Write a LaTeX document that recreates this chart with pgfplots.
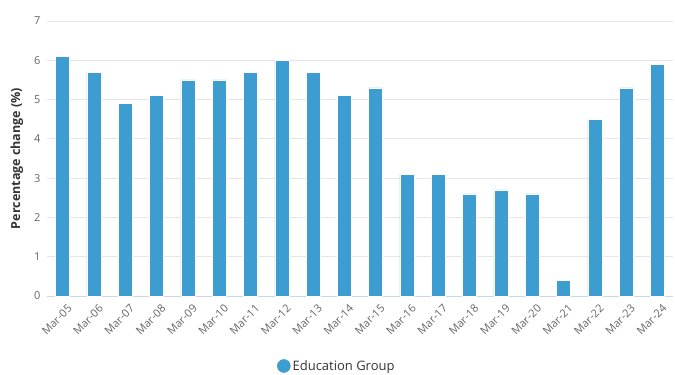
\documentclass[border=0pt]{standalone}
\usepackage{pgfplots}
\pgfplotsset{compat=1.18}
\usepackage{fontspec}
\setmainfont{Open Sans}
\definecolor{barblue}{RGB}{61,157,209}
\definecolor{tickgray}{RGB}{102,102,102}
\definecolor{gridgray}{RGB}{230,230,230}
\definecolor{axisline}{RGB}{204,214,235}
\definecolor{textdark}{RGB}{51,51,51}
\begin{document}
\begin{tikzpicture}
\path[use as bounding box] (0pt,0pt) rectangle (675pt,375pt);
\begin{axis}[
  at={(47pt,79pt)}, anchor=south west,
  scale only axis, width=626pt, height=275pt,
  xmin=-0.5, xmax=19.5, ymin=0, ymax=7,
  ybar, bar width=14pt,
  xtick={0,...,19},
  xticklabels={Mar-05,Mar-06,Mar-07,Mar-08,Mar-09,Mar-10,Mar-11,Mar-12,Mar-13,Mar-14,Mar-15,Mar-16,Mar-17,Mar-18,Mar-19,Mar-20,Mar-21,Mar-22,Mar-23,Mar-24},
  ytick={0,1,...,7},
  /pgf/number format/assume math mode=true,
  axis x line*=bottom,
  axis y line*=left,
  x axis line style={draw=axisline, line width=0.8pt},
  y axis line style={draw=none},
  tick style={draw=none},
  ymajorgrids,
  major grid style={draw=gridgray, line width=0.8pt},
  yticklabel style={text=tickgray, font=\fontsize{11}{13}\selectfont, xshift=-3pt},
  xticklabel style={text=tickgray, font=\fontsize{11}{13}\selectfont, rotate=45, anchor=north east, xshift=4pt, yshift=-2pt},
  ylabel={Percentage change (\%)},
  ylabel style={font=\fontsize{12.5}{14}\selectfont\bfseries, text=textdark, at={(axis description cs:-0.048,0.5)}, anchor=center},
  legend style={at={(axis description cs:0.463,-0.2545)}, anchor=center, draw=none, fill=none, font=\fontsize{13}{15}\selectfont, text=textdark},
  legend image code/.code={\fill[barblue] (2pt,0pt) circle (6.5pt);},
]
\addplot[fill=barblue, draw=white, line width=0.5pt] coordinates {
(0,6.1) (1,5.7) (2,4.9) (3,5.1) (4,5.5) (5,5.5) (6,5.7) (7,6.0) (8,5.7) (9,5.1)
(10,5.3) (11,3.1) (12,3.1) (13,2.6) (14,2.7) (15,2.6) (16,0.4) (17,4.5) (18,5.3) (19,5.9)};
\addlegendentry{Education Group}
\end{axis}
\end{tikzpicture}
\end{document}
